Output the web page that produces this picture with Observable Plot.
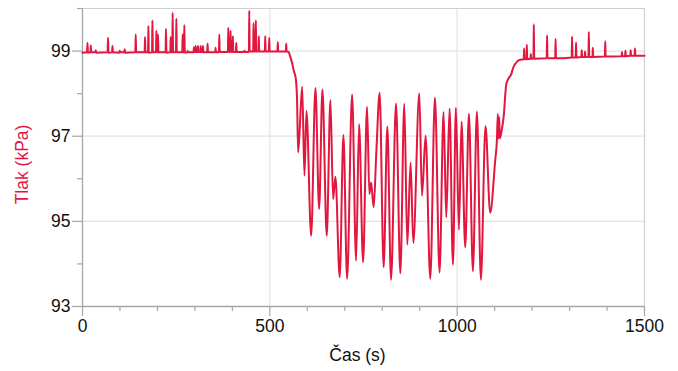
<!DOCTYPE html>
<html>
<head>
<meta charset="utf-8">
<script src="https://cdn.jsdelivr.net/npm/d3@7"></script>
<script src="https://cdn.jsdelivr.net/npm/@observablehq/plot@0.6"></script>
<style>
  html, body { margin: 0; padding: 0; background: #fff; }
  #chart { width: 678px; height: 371px; }
</style>
</head>
<body>
<div id="chart"></div>
<script>
// Time (s) and pressure (kPa)
const timeS = [
  0, 12, 13.3, 14.5, 21, 22.1, 23.3, 34.5, 35.4, 36.5,
  67, 68.2, 69.4, 79, 80, 81.2, 98.5, 99.4, 100.5, 111.5,
  112.7, 113.9, 141, 142, 143.2, 165.8, 166.8, 168, 174.9, 175.9,
  177, 185.6, 186.6, 187.8, 196.2, 197.2, 198.3, 200.5, 201.5, 202.7,
  221.8, 222.8, 224, 234.3, 235.3, 236.4, 239.6, 240.6, 241.8, 249.5,
  250.5, 251.7, 266.3, 267.3, 268.4, 270.8, 271.8, 273, 279.6, 280.6,
  281.6, 296.4, 297.4, 298.5, 301, 302, 303, 307.1, 308.1, 309.2,
  314.3, 315.3, 316.4, 320.4, 321.4, 322.5, 332.9, 333.9, 335, 354.2,
  355.2, 356.3, 364.1, 365.1, 366.2, 388.1, 389.1, 390.2, 394.2, 395.2,
  396.3, 400.3, 401.3, 402.4, 409.4, 410.4, 411.5, 431.5, 432.5, 433.6,
  444.1, 445.1, 446.2, 455.5, 456.5, 457.6, 461.6, 462.6, 463.7, 469.6,
  470.6, 471.7, 486.7, 487.7, 488.8, 497.4, 498.4, 499.5, 520.3, 521.3,
  522.4, 542.7, 543.7, 544.8, 550, 554, 559, 564, 569, 572.5,
  575.6, 586.3, 592.4, 597.8, 610.3, 621.7, 631.6, 640.4, 651.9, 661.7,
  668.9, 675.0, 686.5, 696.4, 706.2, 719.6, 730.2, 738.2, 748.9, 759.5,
  765.7, 770.2, 777.1, 784.3, 793.1, 803.8, 813.6, 823.5, 836.8, 848.3,
  858.9, 866.9, 875.7, 882.9, 898.9, 906.1, 915.7, 928.2, 940.7, 953.0,
  963.7, 970.9, 979.7, 988.7, 996.7, 1004.7, 1011.6, 1021.5, 1031.4, 1042.0,
  1052.7, 1063.3, 1075.6, 1088.1, 1101.4, 1106, 1108.6, 1110, 1112, 1114,
  1118, 1124, 1131, 1136, 1144, 1150, 1157, 1164, 1172, 1177.7,
  1178.7, 1179.8, 1184.9, 1185.9, 1187, 1195.6, 1196.6, 1197.7, 1203.6, 1204.6,
  1205.7, 1239, 1240, 1241.1, 1261.7, 1262.7, 1263.8, 1305.7, 1306.7, 1307.8,
  1316.3, 1317.3, 1318.4, 1331.5, 1332.5, 1333.6, 1340.3, 1341.3, 1342.4, 1350.4,
  1351.4, 1352.5, 1361.1, 1362.1, 1363.2, 1394.2, 1395.2, 1396.3, 1438.9, 1439.9,
  1441, 1448.2, 1449.2, 1450.3, 1462.1, 1463.1, 1464.2, 1473.6, 1474.6, 1475.7,
  1500
];
const pressureKPa = [
  98.96, 98.97, 99.19, 98.96, 98.97, 99.13, 98.97, 98.97, 99.02, 98.96,
  98.97, 99.31, 98.96, 98.97, 99.12, 98.97, 98.96, 99.01, 98.97, 98.97,
  99.04, 98.96, 98.97, 99.39, 98.97, 98.97, 99.33, 98.97, 98.97, 99.59,
  98.96, 98.97, 99.72, 98.97, 98.98, 99.48, 98.97, 98.97, 99.39, 98.97,
  98.97, 99.52, 98.96, 98.97, 99.33, 98.97, 98.97, 99.90, 98.97, 98.98,
  99.76, 98.97, 98.97, 99.39, 98.97, 98.97, 99.61, 98.96, 98.97, 99.00,
  98.97, 98.97, 99.09, 98.98, 98.98, 99.12, 98.98, 98.98, 99.12, 98.98,
  98.98, 99.12, 98.98, 98.98, 99.12, 98.97, 98.97, 99.17, 98.97, 98.97,
  99.08, 98.97, 98.98, 99.39, 98.98, 98.98, 99.55, 98.98, 98.98, 99.48,
  98.98, 98.98, 99.35, 98.98, 98.98, 99.19, 98.98, 98.98, 99.01, 98.98,
  98.98, 99.95, 98.99, 98.99, 99.66, 98.99, 98.99, 99.72, 98.99, 98.99,
  99.35, 98.99, 98.99, 99.35, 98.99, 98.99, 99.31, 98.99, 98.99, 99.21,
  98.99, 98.99, 99.17, 98.99, 98.98, 98.88, 98.74, 98.53, 98.37, 97.90,
  96.62, 98.16, 96.07, 97.59, 94.66, 98.13, 95.29, 98.10, 94.66, 97.85,
  95.52, 96.05, 93.69, 97.03, 93.65, 97.98, 94.08, 97.28, 94.04, 97.69,
  95.64, 95.91, 95.33, 96.64, 98.02, 93.92, 97.23, 93.63, 97.77, 93.78,
  97.76, 94.45, 96.38, 94.49, 98.01, 95.60, 97.01, 93.65, 97.91, 93.80,
  97.57, 95.09, 97.65, 93.98, 97.67, 94.80, 97.34, 94.39, 97.53, 93.83,
  97.58, 93.63, 97.24, 95.20, 96.42, 96.90, 97.52, 96.95, 97.45, 96.95,
  97.10, 97.45, 98.22, 98.34, 98.45, 98.62, 98.72, 98.78, 98.80, 98.81,
  99.06, 98.81, 98.81, 99.15, 98.81, 98.82, 98.93, 98.82, 98.82, 99.63,
  98.82, 98.83, 99.37, 98.83, 98.83, 99.29, 98.83, 98.85, 99.34, 98.85,
  98.85, 99.20, 98.85, 98.86, 99.02, 98.86, 98.86, 98.99, 98.86, 98.86,
  99.45, 98.86, 98.86, 99.08, 98.86, 98.87, 99.23, 98.87, 98.88, 98.98,
  98.88, 98.88, 99.01, 98.88, 98.89, 99.02, 98.89, 98.89, 99.06, 98.89,
  98.89
];

const xMajor = [0, 500, 1000, 1500];
const xMinor = [100, 200, 300, 400, 600, 700, 800, 900, 1100, 1200, 1300, 1400];
const yMajor = [93, 95, 97, 99];
const yMinor = [94, 96, 98, 100];
const xGrid = [500, 1000];
const yGrid = [95, 97, 99];
const xTitle = "Čas (s)";
const yTitle = "Tlak (kPa)";

const data = timeS.map((t, i) => ({t, p: pressureKPa[i]}));

const red = "#e2173f";
const axisGrey = "#a6a6a6";
const gridGrey = "#e4e4e4";
const frameGrey = "#d0d0d0";

const chart = Plot.plot({
  width: 678,
  height: 371,
  marginLeft: 82,
  marginRight: 34,
  marginTop: 8,
  marginBottom: 65,
  style: {fontFamily: "'Liberation Sans', Arial, sans-serif", fontSize: "17.5px", color: "#111", background: "#fff"},
  x: {domain: [0, 1500]},
  y: {domain: [93, 100]},
  marks: [
    Plot.gridX(xGrid, {stroke: gridGrey, strokeOpacity: 1, strokeWidth: 1.2}),
    Plot.gridY(yGrid, {stroke: gridGrey, strokeOpacity: 1, strokeWidth: 1.2}),
    Plot.ruleY([100], {stroke: frameGrey, strokeWidth: 1.2}),
    Plot.ruleX([1500], {stroke: frameGrey, strokeWidth: 1.2}),
    Plot.axisX(xMinor, {tickSize: 5, tickFormat: () => "", stroke: axisGrey, strokeWidth: 1.2, label: null}),
    Plot.axisX(xMajor, {tickSize: 10, tickPadding: 3, tickFormat: d => String(d), stroke: axisGrey, strokeWidth: 1.2, fill: "#111", label: null}),
    Plot.axisY(yMinor, {tickSize: 5, tickFormat: () => "", stroke: axisGrey, strokeWidth: 1.2, label: null}),
    Plot.axisY(yMajor, {tickSize: 10, tickPadding: 2, tickFormat: d => String(d), stroke: axisGrey, strokeWidth: 1.2, fill: "#111", label: null}),
    Plot.ruleX([0], {stroke: axisGrey, strokeWidth: 1.3}),
    Plot.ruleY([93], {stroke: axisGrey, strokeWidth: 1.3}),
    Plot.line(data, {x: "t", y: "p", stroke: red, strokeWidth: 2, curve: "monotone-x"}),
    Plot.text([yTitle], {frameAnchor: "left", dx: -60, dy: 7, rotate: -90, textAnchor: "middle", fill: red, fontSize: 17.5}),
    Plot.text([xTitle], {frameAnchor: "bottom", dx: -6, dy: 49, textAnchor: "middle", lineAnchor: "middle", fill: "#111", fontSize: 17.5})
  ]
});
document.getElementById("chart").appendChild(chart);
</script>
</body>
</html>
